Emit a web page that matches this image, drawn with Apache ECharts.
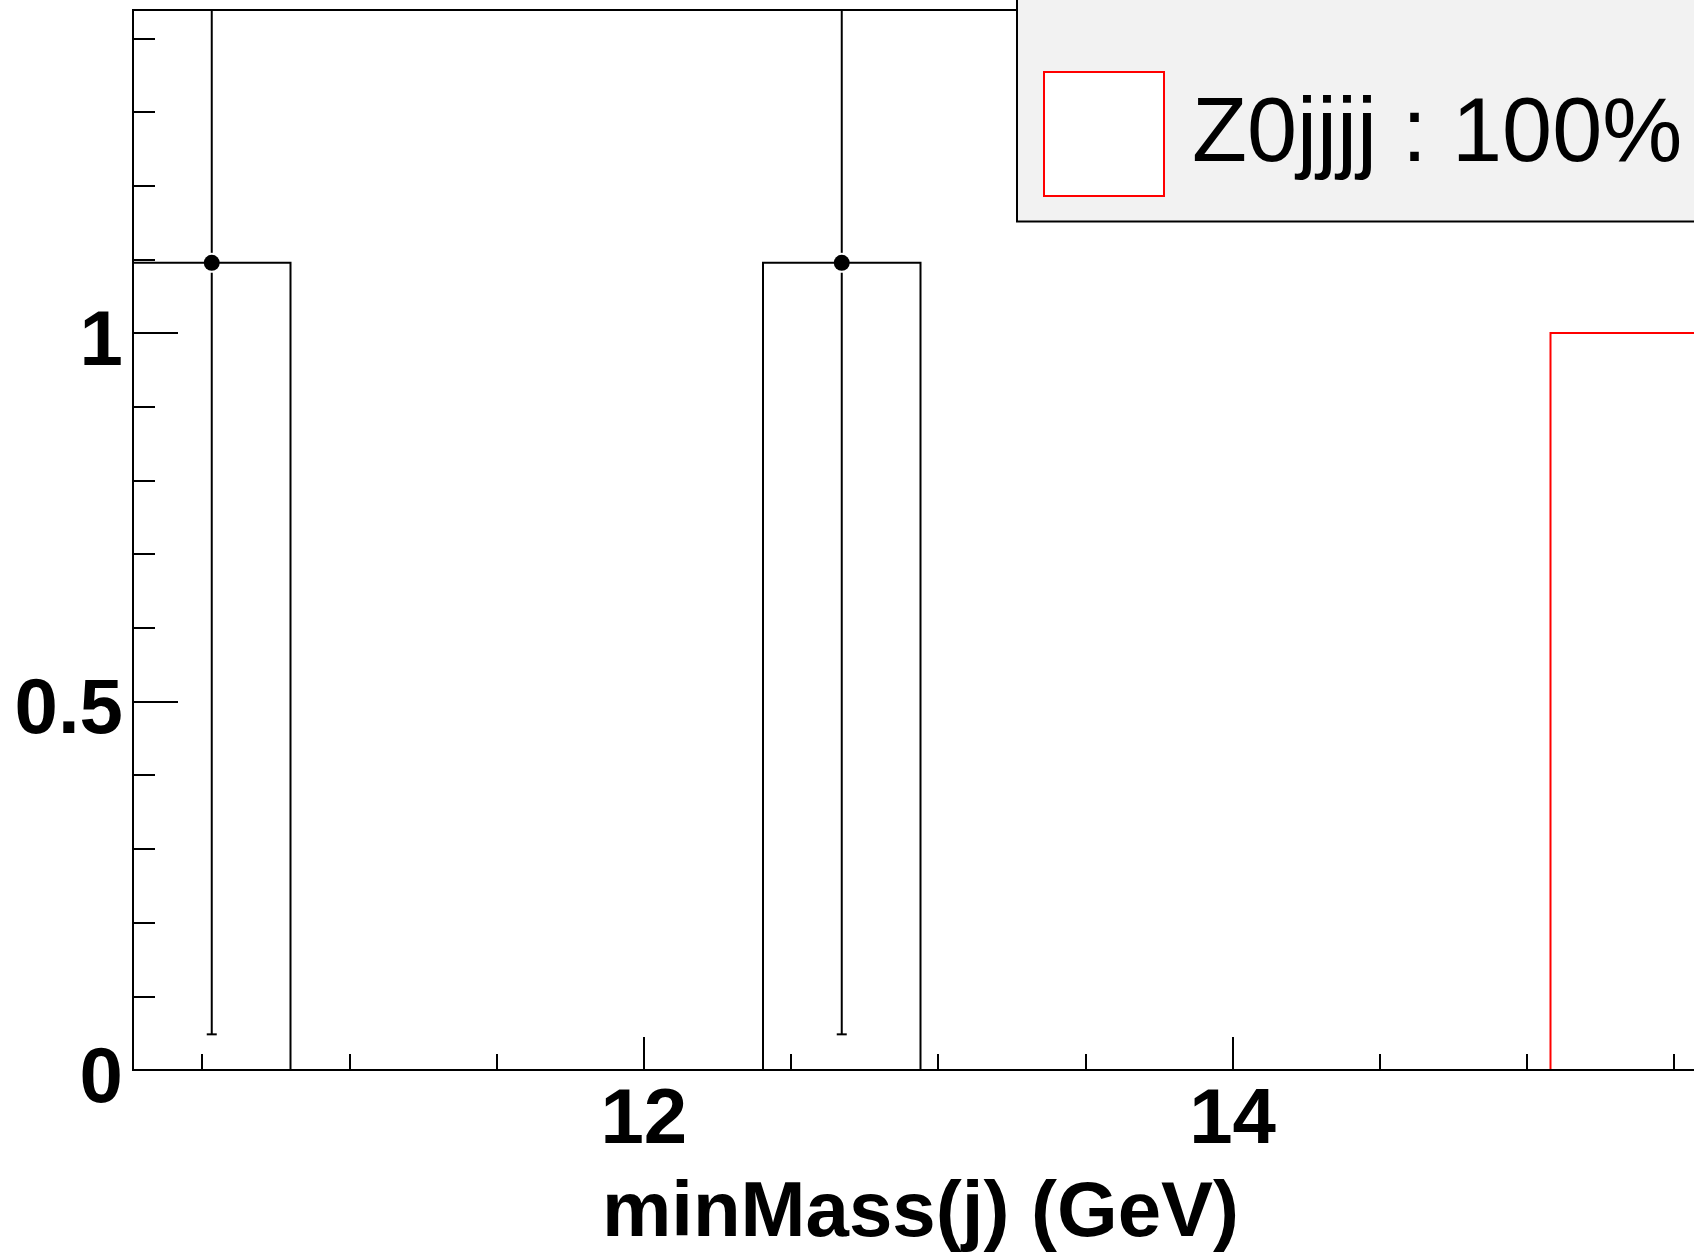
<!DOCTYPE html>
<html>
<head>
<meta charset="utf-8">
<script src="https://cdn.jsdelivr.net/npm/echarts@6/dist/echarts.min.js"></script>
<style>
  html, body { margin: 0; padding: 0; background: #ffffff; }
  #chart { width: 1694px; height: 1253px; }
</style>
</head>
<body>
<div id="chart"></div>
<script>
// Binning of minMass(j) in GeV
const binStart = 10.265;
const binWidth = 0.535;
const binCount = 10;

// Black histogram with markers and error bars
const dataCounts = [1.0954, 0, 0, 0, 1.0954, 0, 0, 0, 0, 0];
const dataErrors = [1.047, 0, 0, 0, 1.047, 0, 0, 0, 0, 0];

// Z0jjjj histogram (red outline)
const z0jjjjCounts = [0, 0, 0, 0, 0, 0, 0, 0, 0, 1.0];

// Axis ranges and labels
const xMin = binStart;
const xMax = binStart + binCount * binWidth;
const yMin = 0;
const yMax = 1.4385;
const xTitle = 'minMass(j) (GeV)';
const legendLabels = ['Zjjjj', 'Z0jjjj : 100%'];

const FONT = '"Liberation Sans", Arial, Helvetica, sans-serif';

function binRows(counts) {
  return counts.map((v, i) => [binStart + i * binWidth, binStart + (i + 1) * binWidth, v]);
}

function pointRows(counts, errors) {
  const rows = [];
  counts.forEach((v, i) => {
    if (v > 0) rows.push([binStart + (i + 0.5) * binWidth, v, errors[i]]);
  });
  return rows;
}

// Outline of one histogram bin: left edge, top, right edge
function histRenderer(color) {
  return function (params, api) {
    const x0 = api.value(0), x1 = api.value(1), v = api.value(2);
    return {
      type: 'polyline',
      shape: { points: [api.coord([x0, 0]), api.coord([x0, v]), api.coord([x1, v]), api.coord([x1, 0])] },
      style: { stroke: color, lineWidth: 2, fill: null }
    };
  };
}

// Marker with vertical error bar, clipped at the frame top
function pointRenderer(params, api) {
  const x = api.value(0), v = api.value(1), e = api.value(2);
  const c = api.coord([x, v]);
  const lo = api.coord([x, v - e]);
  const hi = api.coord([x, v + e]);
  const top = params.coordSys.y;
  const hiY = Math.max(hi[1], top);
  const gap = 10, cap = 5;
  const line = (x1, y1, x2, y2) => ({
    type: 'line', shape: { x1, y1, x2, y2 }, style: { stroke: '#000', lineWidth: 2 }
  });
  const children = [
    line(c[0], lo[1], c[0], c[1] + gap),
    line(c[0], c[1] - gap, c[0], hiY),
    line(c[0] - cap, lo[1], c[0] + cap, lo[1]),
    { type: 'circle', shape: { cx: c[0], cy: c[1], r: 8 }, style: { fill: '#000' } }
  ];
  if (hi[1] >= top) children.push(line(c[0] - cap, hi[1], c[0] + cap, hi[1]));
  return { type: 'group', children };
}

const chart = echarts.init(document.getElementById('chart'), null, { renderer: 'canvas' });

const tickStyle = { color: '#000', width: 2 };

chart.setOption({
  animation: false,
  backgroundColor: '#ffffff',
  grid: {
    left: 133, top: 10, right: -14, bottom: 183,
    containLabel: false,
    outerBoundsMode: 'none',
    show: true, borderColor: '#000', borderWidth: 2, backgroundColor: 'transparent'
  },
  xAxis: [
    {
      type: 'value', min: xMin, max: xMax, splitNumber: 10, position: 'bottom', z: 10,
      axisLine: { show: true, onZero: false, lineStyle: { color: '#000', width: 2 } },
      axisTick: { show: true, inside: true, length: 16, lineStyle: tickStyle },
      axisLabel: { show: false },
      splitLine: { show: false }
    },
    {
      type: 'value', min: xMin, max: xMax, splitNumber: 3, position: 'bottom', offset: 0, z: 10,
      axisLine: { show: false, onZero: false },
      axisTick: { show: true, inside: true, length: 33, lineStyle: tickStyle },
      axisLabel: {
        show: true, margin: 12, showMinLabel: false, showMaxLabel: false,
        color: '#000', fontFamily: FONT, fontWeight: 'bold', fontSize: 78
      },
      splitLine: { show: false },
      name: xTitle, nameLocation: 'middle', nameGap: 105,
      nameTextStyle: { color: '#000', fontFamily: FONT, fontWeight: 'bold', fontSize: 78 }
    }
  ],
  yAxis: [
    {
      type: 'value', min: yMin, max: yMax, interval: 0.1, position: 'left', z: 10,
      axisLine: { show: true, onZero: false, lineStyle: { color: '#000', width: 2 } },
      axisTick: { show: true, inside: true, length: 22, lineStyle: tickStyle },
      axisLabel: { show: false },
      splitLine: { show: false }
    },
    {
      type: 'value', min: yMin, max: yMax, interval: 0.5, position: 'left', offset: 0, z: 10,
      axisLine: { show: false, onZero: false },
      axisTick: { show: true, inside: true, length: 45, lineStyle: tickStyle },
      axisLabel: {
        show: true, margin: 10, showMaxLabel: false,
        formatter: (v) => '{n|' + v + '}',
        rich: {
          n: {
            color: '#000', fontFamily: FONT, fontWeight: 'bold', fontSize: 78,
            padding: [20, 0, 0, 0]
          }
        }
      },
      splitLine: { show: false }
    }
  ],
  series: [
    {
      type: 'custom', name: 'Z0jjjj', xAxisIndex: 0, yAxisIndex: 0, z: 3,
      renderItem: histRenderer('#ff0000'),
      encode: { x: [0, 1], y: 2 },
      data: binRows(z0jjjjCounts)
    },
    {
      type: 'custom', name: 'hist', xAxisIndex: 0, yAxisIndex: 0, z: 4,
      renderItem: histRenderer('#000000'),
      encode: { x: [0, 1], y: 2 },
      data: binRows(dataCounts)
    },
    {
      type: 'custom', name: 'points', xAxisIndex: 0, yAxisIndex: 0, z: 5,
      renderItem: pointRenderer,
      encode: { x: 0, y: 1 },
      data: pointRows(dataCounts, dataErrors)
    }
  ],
  graphic: [
    {
      type: 'group', z: 100,
      children: [
        {
          type: 'rect', shape: { x: 1017, y: -30, width: 720, height: 251.5 },
          style: { fill: '#f2f2f2', stroke: '#000', lineWidth: 2 }
        },
        {
          type: 'rect', shape: { x: 1044, y: 72, width: 120, height: 124 },
          style: { fill: '#ffffff', stroke: '#ff0000', lineWidth: 2 }
        },
        {
          type: 'text', x: 1192, y: -45,
          style: { text: legendLabels[0], font: '90px ' + FONT, fill: '#000', verticalAlign: 'middle', align: 'left' }
        },
        {
          type: 'text', x: 1192, y: 136,
          style: { text: legendLabels[1], font: '90px ' + FONT, fill: '#000', verticalAlign: 'middle', align: 'left' }
        }
      ]
    }
  ]
});
</script>
</body>
</html>
